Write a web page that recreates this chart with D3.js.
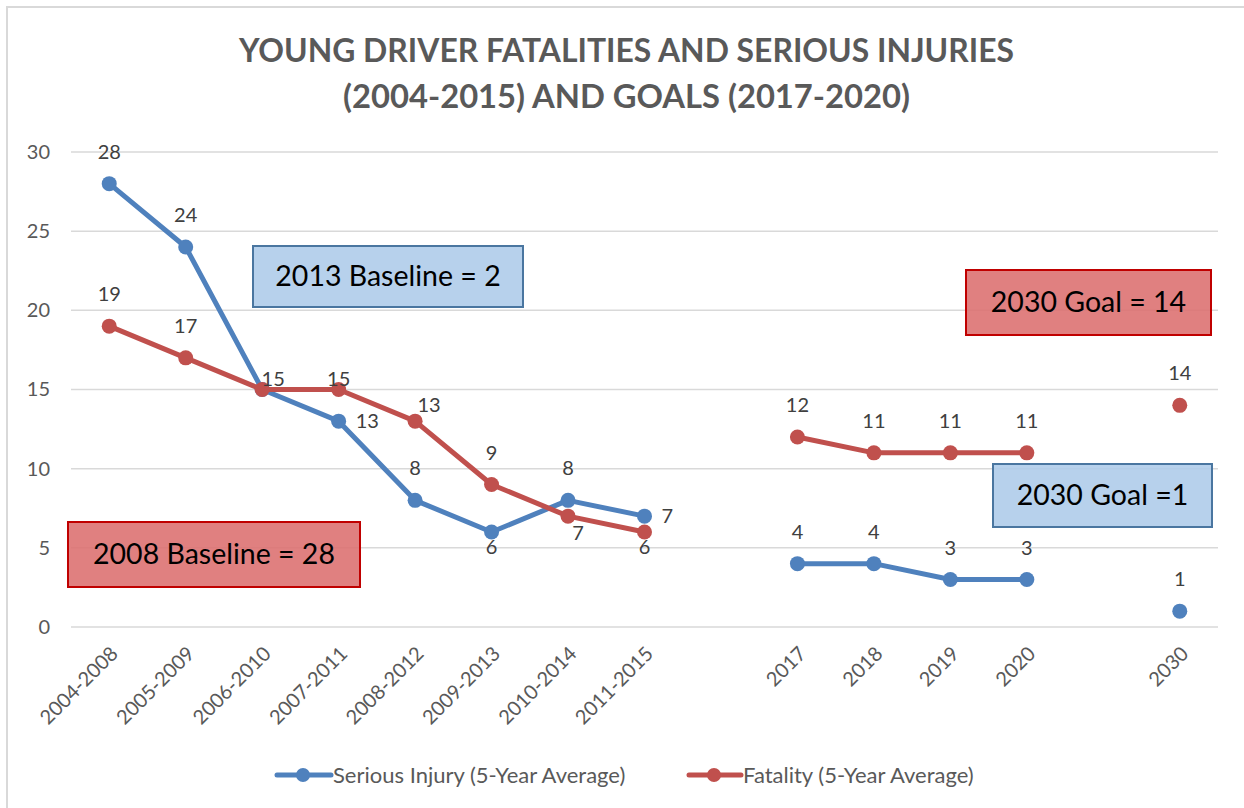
<!DOCTYPE html>
<html>
<head>
<meta charset="utf-8">
<script src="https://cdn.jsdelivr.net/npm/d3@7"></script>
<style>
  html, body { margin: 0; padding: 0; background: #fff; }
  svg { display: block; font-family: Lato, "Open Sans", sans-serif; }
</style>
</head>
<body>
<svg id="chart" width="1244" height="808"></svg>
<script>
// Period labels along the x axis; "" marks an empty slot that separates the groups
const categories = ["2004-2008", "2005-2009", "2006-2010", "2007-2011", "2008-2012",
  "2009-2013", "2010-2014", "2011-2015", "", "2017", "2018", "2019", "2020", "", "2030"];

// Serious injuries, 5-year average (null = no value in that slot)
const seriousInjury = [28, 24, 15, 13, 8, 6, 8, 7, null, 4, 4, 3, 3, null, 1];
// Fatalities, 5-year average
const fatality = [19, 17, 15, 15, 13, 9, 7, 6, null, 12, 11, 11, 11, null, 14];

// Where each value label sits relative to its marker
const injuryLabelPos = ["t", "t", "none", "r", "t", "b", "t", "r", null, "t", "t", "t", "t", null, "t"];
const fatalityLabelPos = ["t", "t", "tr", "tc", "tr2", "t", "br", "b", null, "t", "t", "t", "t", null, "t"];

const yTicks = [0, 5, 10, 15, 20, 25, 30];

const seriesNames = ["Serious Injury (5-Year Average)", "Fatality (5-Year Average)"];
const titleLines = ["YOUNG DRIVER FATALITIES AND SERIOUS INJURIES", "(2004-2015) AND GOALS (2017-2020)"];

const BLUE = "#4f81bd", RED = "#c0504d", GRID = "#d9d9d9", AXIS_TEXT = "#595959", LABEL_TEXT = "#404040";
const FONT = "Lato, 'Open Sans', sans-serif";

const svg = d3.select("#chart");

// Outer chart frame
svg.append("rect").attr("x", 7).attr("y", 7).attr("width", 1250).attr("height", 820)
  .attr("fill", "none").attr("stroke", GRID).attr("stroke-width", 2);

// Title
const titleWidths = [775, 567];
svg.append("g").selectAll("text").data(titleLines).join("text")
  .attr("x", 626.5).attr("y", (d, i) => 62 + i * 46)
  .attr("text-anchor", "middle")
  .attr("font-size", 32).attr("font-weight", 700).attr("fill", AXIS_TEXT)
  .attr("textLength", (d, i) => titleWidths[i]).attr("lengthAdjust", "spacingAndGlyphs")
  .text(d => d);

// Scales
const x = d3.scaleBand().domain(d3.range(categories.length)).range([71, 1218]).padding(0);
const cx = i => x(i) + x.bandwidth() / 2;
const y = d3.scaleLinear().domain([0, 30]).range([627, 152]);

// Horizontal gridlines
svg.append("g").selectAll("line").data(yTicks).join("line")
  .attr("x1", 71).attr("x2", 1218)
  .attr("y1", d => y(d)).attr("y2", d => y(d))
  .attr("stroke", GRID).attr("stroke-width", 1.5);

// Y axis labels
const yAxis = d3.axisLeft(y).tickValues(yTicks).tickSize(0).tickPadding(0);
svg.append("g").attr("transform", "translate(50,0)").call(yAxis)
  .call(g => g.select(".domain").remove())
  .call(g => g.selectAll("text").attr("font-size", 20).attr("fill", AXIS_TEXT)
    .attr("font-family", FONT));

// X axis labels, rotated
const xAxis = d3.axisBottom(x)
  .tickValues(d3.range(categories.length).filter(i => categories[i] !== ""))
  .tickFormat(i => categories[i]).tickSize(0);
svg.append("g").attr("transform", "translate(0,640)").call(xAxis)
  .call(g => g.select(".domain").remove())
  .call(g => g.selectAll("text")
    .attr("font-size", 20).attr("fill", AXIS_TEXT)
    .attr("font-family", FONT)
    .attr("text-anchor", "end")
    .attr("x", 0).attr("y", 0).attr("dy", "0.35em")
    .attr("transform", "translate(5,10) rotate(-45)"));

// Series lines and markers
const line = d3.line().defined(d => d.v != null).x(d => cx(d.i)).y(d => y(d.v));
const series = [
  { values: seriousInjury, color: BLUE, pos: injuryLabelPos },
  { values: fatality, color: RED, pos: fatalityLabelPos }
];

const offsets = {
  t: [0, -32], b: [0, 15], r: [17, 0], tr: [11, -11], tc: [0, -11],
  tr2: [14, -16], br: [10, 17]
};

series.forEach(s => {
  const pts = s.values.map((v, i) => ({ v, i, pos: s.pos[i] }));
  svg.append("path").datum(pts)
    .attr("d", line).attr("fill", "none")
    .attr("stroke", s.color).attr("stroke-width", 5)
    .attr("stroke-linejoin", "round").attr("stroke-linecap", "round");
  svg.append("g").selectAll("circle").data(pts.filter(d => d.v != null)).join("circle")
    .attr("cx", d => cx(d.i)).attr("cy", d => y(d.v)).attr("r", 7.5)
    .attr("fill", s.color);
  s.pts = pts;
});

// Value labels drawn on top of both series
series.forEach(s => {
  svg.append("g").selectAll("text")
    .data(s.pts.filter(d => d.v != null && d.pos && d.pos !== "none")).join("text")
    .attr("x", d => cx(d.i) + offsets[d.pos][0])
    .attr("y", d => y(d.v) + offsets[d.pos][1])
    .attr("dy", "0.35em")
    .attr("text-anchor", d => d.pos === "r" ? "start" : "middle")
    .attr("font-size", 20).attr("fill", LABEL_TEXT)
    .text(d => d.v);
});

// Annotation boxes
const notes = [
  { text: "2013 Baseline = 2", x: 253, y: 246, w: 270, h: 61, fill: "#adcbe9", stroke: "#4a76a0" },
  { text: "2030 Goal = 14", x: 966, y: 270, w: 245, h: 65, fill: "#dc6e6e", stroke: "#c00000" },
  { text: "2030 Goal =1", x: 993, y: 464, w: 219, h: 63, fill: "#adcbe9", stroke: "#4a76a0" },
  { text: "2008 Baseline = 28", x: 68, y: 522, w: 292, h: 65, fill: "#dc6e6e", stroke: "#c00000" }
];
const ng = svg.append("g").selectAll("g").data(notes).join("g");
ng.append("rect")
  .attr("x", d => d.x).attr("y", d => d.y).attr("width", d => d.w).attr("height", d => d.h)
  .attr("fill", d => d.fill).attr("fill-opacity", 0.88)
  .attr("stroke", d => d.stroke).attr("stroke-width", 2);
ng.append("text")
  .attr("x", d => d.x + d.w / 2).attr("y", d => d.y + d.h / 2).attr("dy", "0.35em")
  .attr("text-anchor", "middle").attr("font-size", 28.5).attr("fill", "#000")
  .text(d => d.text);

// Legend
const legendItems = [
  { name: seriesNames[0], color: BLUE, x1: 277, x2: 331, mx: 303 },
  { name: seriesNames[1], color: RED, x1: 689, x2: 741, mx: 714 }
];
const lg = svg.append("g").selectAll("g").data(legendItems).join("g");
lg.append("line").attr("x1", d => d.x1).attr("x2", d => d.x2).attr("y1", 775).attr("y2", 775)
  .attr("stroke", d => d.color).attr("stroke-width", 5).attr("stroke-linecap", "round");
lg.append("circle").attr("cx", d => d.mx).attr("cy", 775).attr("r", 7).attr("fill", d => d.color);
lg.append("text").attr("x", d => d.x2 + 2).attr("y", 775).attr("dy", "0.35em")
  .attr("font-size", 22).attr("fill", AXIS_TEXT).text(d => d.name);
</script>
</body>
</html>
